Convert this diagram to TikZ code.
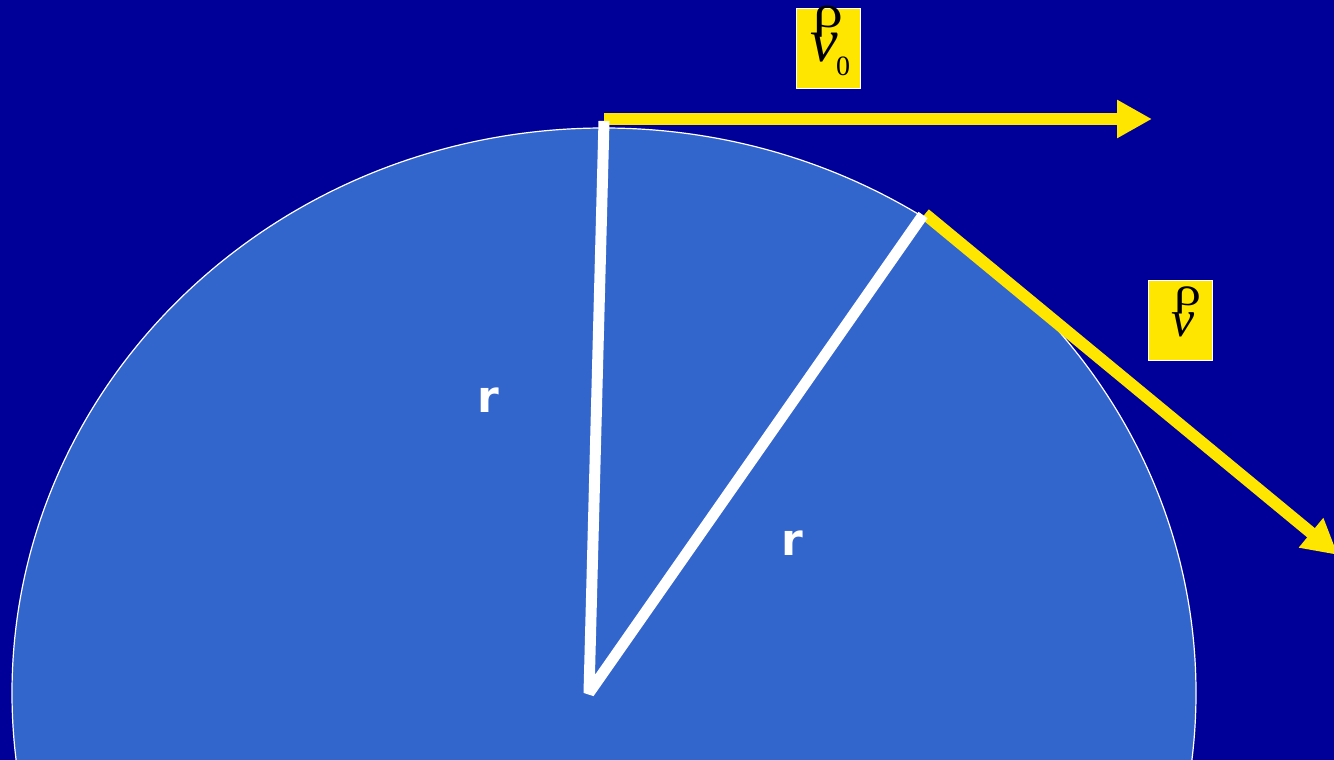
\documentclass[tikz,border=0pt]{standalone}
\usepackage{fontspec}
\setmainfont{Liberation Serif}
\newfontfamily\labfont{DejaVu Sans}
\usetikzlibrary{arrows.meta}
\definecolor{bgblue}{RGB}{0,0,153}
\definecolor{discblue}{RGB}{51,102,204}
\definecolor{vyellow}{RGB}{255,230,0}
\tikzset{
  yarrow/.style={draw=vyellow, line width=12pt, -{Triangle[length=35pt,width=36pt]}},
  radius line/.style={draw=white, line width=11pt, line join=bevel},
  vbox/.style={fill=vyellow, draw=white, line width=0.8pt, minimum width=64pt, minimum height=80pt, inner sep=0pt},
  gl/.style={inner sep=0pt, text=black},
  rlab/.style={inner sep=0pt, text=white, font=\labfont\bfseries\fontsize{44}{50}\selectfont}
}
\begin{document}
\begin{tikzpicture}[x=1pt,y=-1pt]
\useasboundingbox (0,0) rectangle (1334,760);
\fill[bgblue] (0,0) rectangle (1334,760);
\clip (0,0) rectangle (1334,760);
% disc
\filldraw[fill=discblue, draw=white, line width=1.2pt] (604,693) ellipse [x radius=592pt, y radius=565pt];
% points
\coordinate (C) at (589,693);
\coordinate (T) at (604,121);
\coordinate (P) at (923,215);
\coordinate (A0) at (604,119);
\coordinate (E1) at (1152,119);
\coordinate (A1) at (925,214);
\coordinate (E2) at (1338,555);
% velocity arrows
\draw[yarrow] (A0) -- (E1);
\draw[yarrow] (A1) -- (E2);
% radii
\draw[radius line] (T) -- (C) -- (P);
% labels r
\node[rlab] (r1) at (488,400) {r};
\node[rlab] (r2) at (792,543) {r};
% vector boxes
\node[vbox] (b1) at (828,48) {};
\node[gl, font=\fontsize{46}{52}\selectfont, xscale=1.3] (rho1) at (828,22) {ρ};
\node[gl, font=\itshape\fontsize{62}{70}\selectfont] (v1) at (824,48) {v};
\node[gl, font=\fontsize{28}{32}\selectfont] (s1) at (843,66) {0};
\node[vbox] (b2) at (1180,320) {};
\node[gl, font=\fontsize{40}{46}\selectfont, xscale=1.35] (rho2) at (1188,300) {ρ};
\node[gl, font=\itshape\fontsize{52}{60}\selectfont] (v2) at (1183,325) {v};
\end{tikzpicture}
\end{document}
